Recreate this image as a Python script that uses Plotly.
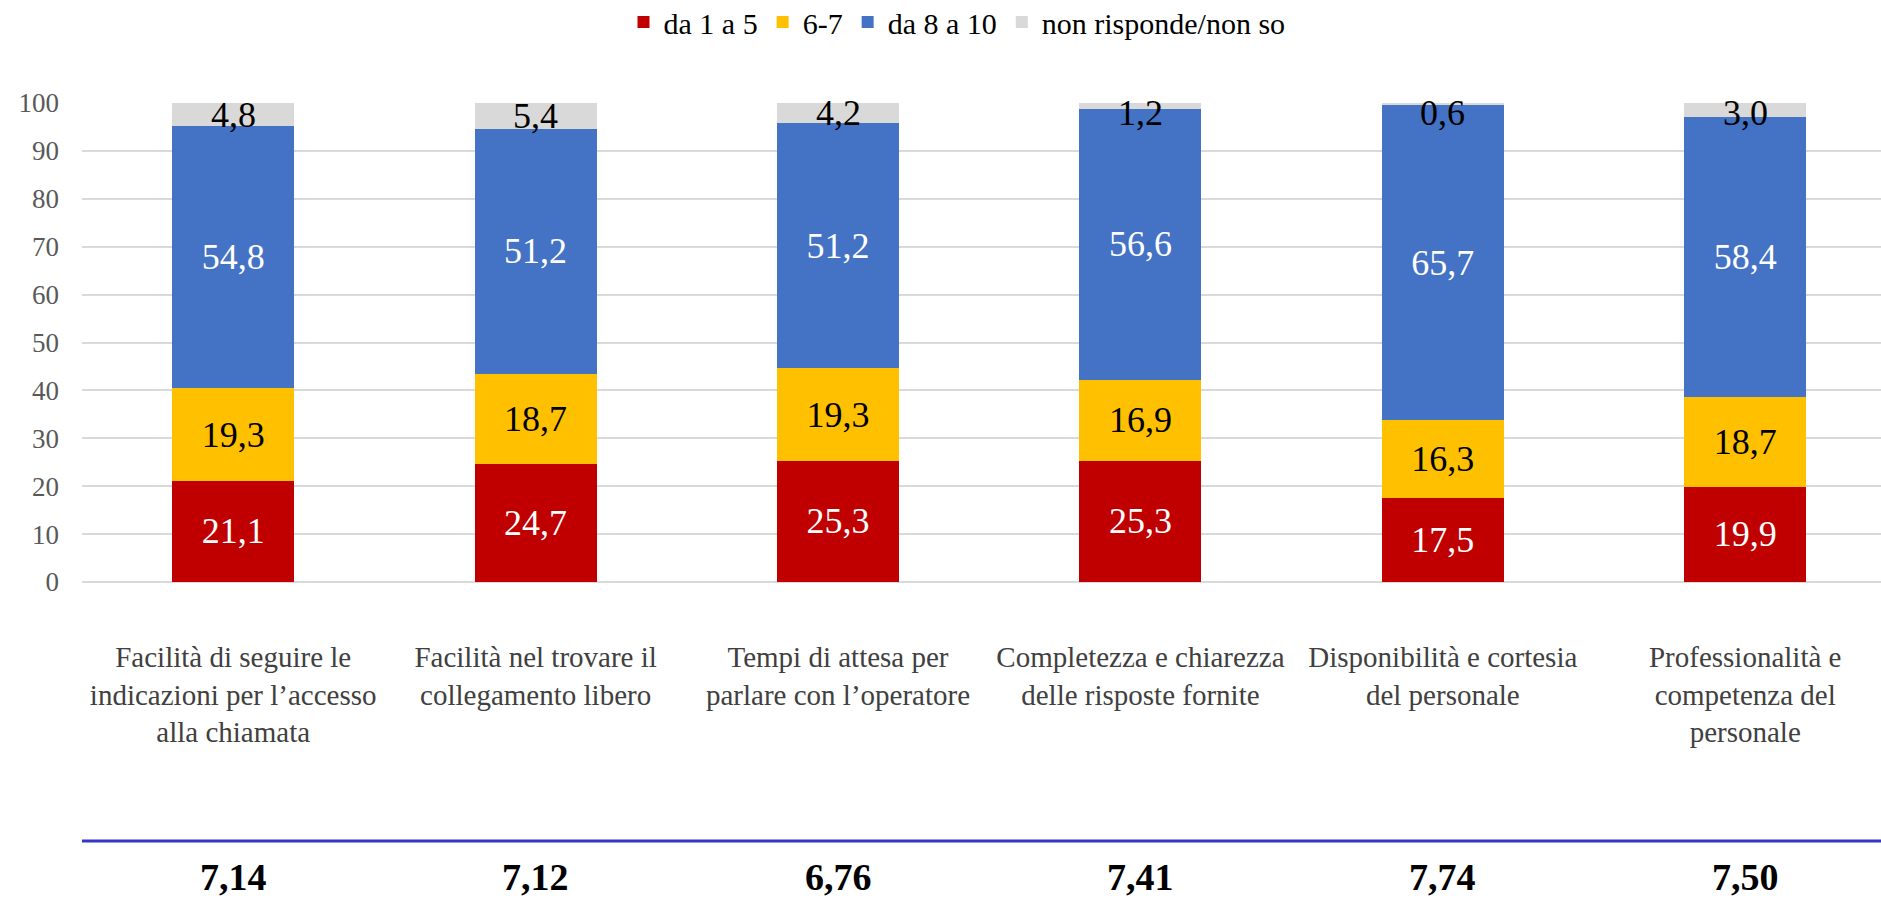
import plotly.graph_objects as go

categories = [
    "Facilità di seguire le<br>indicazioni per l’accesso<br>alla chiamata",
    "Facilità nel trovare il<br>collegamento libero",
    "Tempi di attesa per<br>parlare con l’operatore",
    "Completezza e chiarezza<br>delle risposte fornite",
    "Disponibilità e cortesia<br>del personale",
    "Professionalità e<br>competenza del<br>personale",
]
low_1_5 = [21.1, 24.7, 25.3, 25.3, 17.5, 19.9]
mid_6_7 = [19.3, 18.7, 19.3, 16.9, 16.3, 18.7]
high_8_10 = [54.8, 51.2, 51.2, 56.6, 65.7, 58.4]
no_answer = [4.8, 5.4, 4.2, 1.2, 0.6, 3.0]
mean_scores = ["7,14", "7,12", "6,76", "7,41", "7,74", "7,50"]

series = [
    ("da 1 a 5", low_1_5, "#C00000", "white"),
    ("6-7", mid_6_7, "#FFC000", "black"),
    ("da 8 a 10", high_8_10, "#4472C4", "white"),
    ("non risponde/non so", no_answer, "#D9D9D9", "black"),
]

FONT = "'Liberation Serif', 'Times New Roman', Times, serif"
W, H = 1881, 921
plot_top, plot_bottom, plot_left = 103, 582, 82
plot_h = plot_bottom - plot_top

def paper_y(py):
    return (plot_bottom - py) / plot_h

def fmt(v):
    return f"{v:.1f}".replace(".", ",")

fig = go.Figure()
for name, vals, color, tcolor in series:
    inside = name != "non risponde/non so"
    fig.add_trace(go.Bar(
        name=name, x=categories, y=vals,
        marker=dict(color=color, line=dict(width=0)),
        width=0.403,
        text=[fmt(v) for v in vals] if inside else None,
        textposition="inside" if inside else "none",
        insidetextanchor="middle",
        textangle=0, constraintext="none",
        textfont=dict(family=FONT, size=36, color=tcolor),
        hoverinfo="skip",
    ))

# labels of the small top segment, kept inside the plot area like the original
for i, cat in enumerate(categories):
    base = low_1_5[i] + mid_6_7[i] + high_8_10[i]
    yc = min(base + no_answer[i] / 2, 98.0)
    fig.add_annotation(x=cat, xref="x", y=yc, yref="y", text=fmt(no_answer[i]),
                       showarrow=False, font=dict(family=FONT, size=36, color="black"),
                       xanchor="center", yanchor="middle")

for cat, m in zip(categories, mean_scores):
    fig.add_annotation(x=cat, xref="x", y=paper_y(877), yref="paper",
                       text=f"<b>{m}</b>", showarrow=False,
                       font=dict(family=FONT, size=38, color="black"),
                       xanchor="center", yanchor="middle")

fig.add_shape(type="line", xref="paper", yref="paper", x0=0, x1=1,
              y0=paper_y(841), y1=paper_y(841),
              line=dict(color="#3535C8", width=3))

fig.update_layout(
    width=W, height=H, autosize=False,
    barmode="stack",
    plot_bgcolor="white", paper_bgcolor="white",
    margin=dict(l=plot_left, r=0, t=plot_top, b=H - plot_bottom, pad=0),
    font=dict(family=FONT, color="black"),
    legend=dict(orientation="h", xref="container", yref="container",
                x=957 / W, y=1 - 22 / H, xanchor="center", yanchor="middle",
                traceorder="normal", font=dict(family=FONT, size=30, color="black"),
                itemwidth=30),
    xaxis=dict(range=[-0.5, 5.449], showgrid=False, showline=False, ticks="",
               tickfont=dict(family=FONT, size=29, color="#404040"),
               ticklabelstandoff=55, fixedrange=True),
    yaxis=dict(range=[0, 100], dtick=10, showgrid=True, gridcolor="#D9D9D9",
               gridwidth=1.5, zeroline=True, zerolinecolor="#D9D9D9", zerolinewidth=1.5,
               showline=False, ticks="",
               tickfont=dict(family=FONT, size=27, color="#595959"),
               ticklabelstandoff=22, fixedrange=True),
    showlegend=True,
)

fig.write_html("out.html", config={"displayModeBar": False},
               post_script="document.body.style.margin='0';document.body.style.overflow='hidden';")
